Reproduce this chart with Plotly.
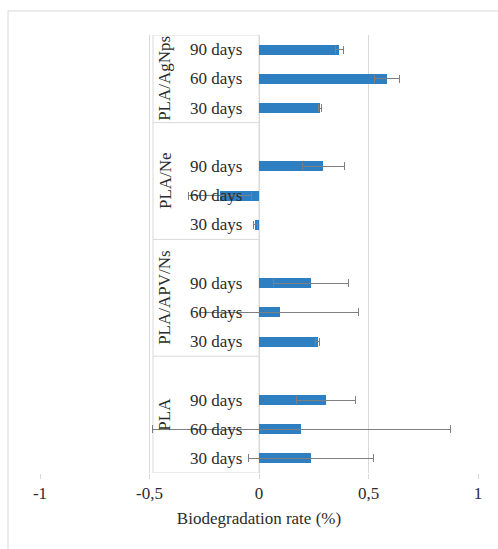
import plotly.graph_objects as go

# Mean biodegradation rate (%) and its error, per material and incubation time
groups = ["PLA", "PLA/APV/Ns", "PLA/Ne", "PLA/AgNps"]
periods = ["30 days", "60 days", "90 days"]

pla_rate = [0.236, 0.194, 0.304]
pla_err = [0.285, 0.680, 0.135]

apv_rate = [0.268, 0.095, 0.238]
apv_err = [0.010, 0.360, 0.170]

ne_rate = [-0.017, -0.178, 0.294]
ne_err = [0.009, 0.143, 0.095]

agnps_rate = [0.278, 0.585, 0.367]
agnps_err = [0.008, 0.058, 0.018]

x_tickvals = [-1, -0.5, 0, 0.5, 1]
x_ticktext = ["-1", "-0,5", "0", "0,5", "1"]

rates = [pla_rate, apv_rate, ne_rate, agnps_rate]
errors = [pla_err, apv_err, ne_err, agnps_err]

# each group occupies four rows (three periods plus one spacer row)
ys, xs, es, labels = [], [], [], []
for gi, (r, e) in enumerate(zip(rates, errors)):
    for pi, period in enumerate(periods):
        ys.append(4 * gi + pi)
        xs.append(r[pi])
        es.append(e[pi])
        labels.append(period)

FONT = "'Liberation Serif', 'Times New Roman', serif"
TEXT = "#2b2b2b"
GRID = "#d9d9d9"
BLUE = "#2E7EC2"

fig = go.Figure()
fig.add_trace(go.Bar(
    x=xs, y=ys, orientation="h", width=0.34,
    marker=dict(color=BLUE, line=dict(width=0)),
    error_x=dict(type="data", array=es, visible=True,
                 color="#7f7f7f", thickness=1, width=4),
    showlegend=False, hoverinfo="x",
))

y_top = 4 * (len(groups) - 1) + len(periods) - 0.5
box_left = -0.484

shapes = [
    # category label panel
    dict(type="rect", xref="x", yref="y", x0=box_left, x1=0, y0=-0.5, y1=y_top,
         fillcolor="white", line=dict(color=GRID, width=1), layer="between"),
    # outer chart frame
    dict(type="rect", xref="paper", yref="paper", x0=-0.073, x1=1.2, y0=-0.3, y1=1.055,
         fillcolor="rgba(0,0,0,0)", line=dict(color=GRID, width=1), layer="below"),
]
# separators between group labels
for gi in range(1, len(groups)):
    yy = 4 * gi - 0.5
    shapes.append(dict(type="line", xref="x", yref="y", x0=box_left, x1=0, y0=yy, y1=yy,
                       line=dict(color=GRID, width=1), layer="between"))

annotations = []
for y, lab in zip(ys, labels):
    annotations.append(dict(x=-0.068, y=y, xref="x", yref="y", text=lab, showarrow=False,
                            xanchor="right", yanchor="middle",
                            font=dict(family=FONT, size=17, color=TEXT)))
for gi, g in enumerate(groups):
    lo = 4 * gi - 0.5
    hi = min(4 * gi + 3.5, y_top)
    annotations.append(dict(x=-0.429, y=(lo + hi) / 2, xref="x", yref="y", text=g,
                            showarrow=False, textangle=-90, xanchor="center", yanchor="middle",
                            font=dict(family=FONT, size=17, color=TEXT)))

fig.update_layout(
    width=498, height=549,
    margin=dict(l=40, r=20, t=35, b=76),
    paper_bgcolor="white", plot_bgcolor="white",
    font=dict(family=FONT, size=17, color=TEXT),
    shapes=shapes, annotations=annotations,
    bargap=0,
)
fig.update_xaxes(
    range=[-1, 1], tickvals=x_tickvals, ticktext=x_ticktext,
    showgrid=True, gridcolor=GRID, gridwidth=1, zeroline=False,
    ticks="outside", ticklen=5, tickcolor=GRID, showline=False,
    tickfont=dict(family=FONT, size=17, color=TEXT),
    title=dict(text="Biodegradation rate (%)", standoff=9,
               font=dict(family=FONT, size=17, color=TEXT)),
)
fig.update_yaxes(
    range=[-0.5, y_top], showticklabels=False, showgrid=False, zeroline=False,
    showline=False, ticks="",
)

fig.write_html("out.html")
